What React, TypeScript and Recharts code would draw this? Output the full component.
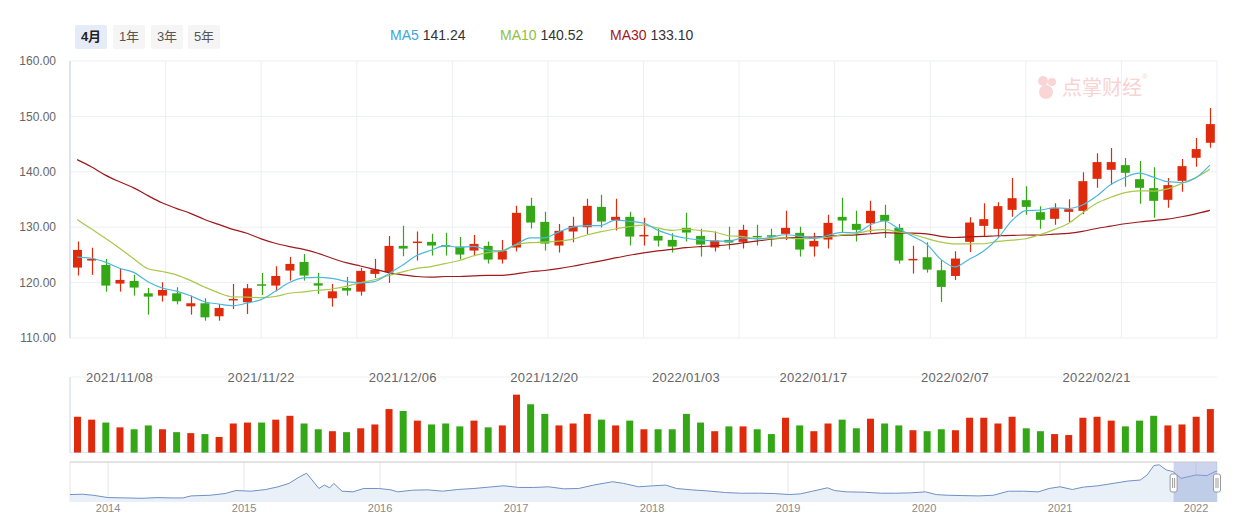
import React from 'react';
import {
  ComposedChart, Bar, Line, Area, XAxis, YAxis, CartesianGrid, Cell, ReferenceArea, ReferenceLine,
} from 'recharts';

const RED = '#e02a0c';
const GREEN = '#34a716';
const FONT = '"Liberation Sans", Arial, "Noto Sans CJK SC", sans-serif';

// trading days shown in the window
const dates = [
  '2021/11/03', '2021/11/04', '2021/11/05', '2021/11/08', '2021/11/09', '2021/11/10', '2021/11/11', '2021/11/12', '2021/11/15', '2021/11/16',
  '2021/11/17', '2021/11/18', '2021/11/19', '2021/11/22', '2021/11/23', '2021/11/24', '2021/11/25', '2021/11/26', '2021/11/29', '2021/11/30',
  '2021/12/01', '2021/12/02', '2021/12/03', '2021/12/06', '2021/12/07', '2021/12/08', '2021/12/09', '2021/12/10', '2021/12/13', '2021/12/14',
  '2021/12/15', '2021/12/16', '2021/12/17', '2021/12/20', '2021/12/21', '2021/12/22', '2021/12/23', '2021/12/24', '2021/12/27', '2021/12/28',
  '2021/12/29', '2021/12/30', '2021/12/31', '2022/01/03', '2022/01/04', '2022/01/05', '2022/01/06', '2022/01/07', '2022/01/10', '2022/01/11',
  '2022/01/12', '2022/01/13', '2022/01/17', '2022/01/18', '2022/01/19', '2022/01/20', '2022/01/21', '2022/01/24', '2022/01/25', '2022/01/26',
  '2022/01/27', '2022/01/28', '2022/02/07', '2022/02/08', '2022/02/09', '2022/02/10', '2022/02/11', '2022/02/14', '2022/02/15', '2022/02/16',
  '2022/02/17', '2022/02/18', '2022/02/21', '2022/02/22', '2022/02/23', '2022/02/24', '2022/02/25', '2022/02/28', '2022/03/01', '2022/03/02',
  '2022/03/03',
];
const dateTicks = ['2021/11/08', '2021/11/22', '2021/12/06', '2021/12/20', '2022/01/03', '2022/01/17', '2022/02/07', '2022/02/21'];

const opens = [
  122.71, 123.98, 123.19, 119.82, 120.30, 118.07, 117.65, 118.07, 115.72, 116.27,
  113.92, 116.81, 116.45, 119.70, 119.46, 122.17, 123.73, 119.88, 117.17, 119.04,
  118.37, 121.57, 121.87, 126.63, 127.23, 127.35, 126.75, 126.50, 125.78, 126.63,
  124.16, 126.33, 133.86, 130.96, 126.69, 129.22, 130.00, 133.67, 131.27, 131.87,
  128.49, 128.43, 127.71, 129.88, 128.43, 126.33, 127.71, 127.35, 128.43, 128.55,
  128.80, 128.98, 126.51, 127.77, 131.87, 130.60, 130.72, 132.23, 129.88, 124.16,
  124.58, 122.23, 121.20, 127.35, 130.24, 129.70, 133.13, 134.88, 132.71, 131.51,
  132.77, 132.95, 138.73, 140.36, 141.20, 138.67, 137.05, 134.94, 138.37, 142.53,
  145.24,
];
const highs = [
  127.40, 126.27, 124.28, 122.47, 121.39, 119.04, 120.06, 119.16, 117.65, 117.17,
  116.14, 119.76, 119.76, 121.75, 122.95, 124.64, 125.18, 121.75, 119.76, 121.02,
  122.65, 124.28, 128.43, 130.24, 129.22, 128.80, 128.98, 128.25, 128.61, 127.41,
  127.71, 133.86, 135.30, 132.77, 130.60, 131.87, 135.12, 135.84, 135.12, 132.77,
  131.69, 129.70, 128.92, 132.59, 129.70, 129.22, 130.06, 130.42, 130.42, 129.70,
  132.95, 130.06, 128.98, 132.23, 135.30, 132.95, 134.76, 134.04, 130.60, 126.63,
  127.29, 124.10, 125.66, 131.81, 134.34, 134.52, 138.86, 137.41, 133.80, 134.34,
  135.06, 139.94, 143.37, 144.28, 142.47, 141.93, 140.84, 138.86, 142.29, 146.08,
  151.51,
];
const lows = [
  121.27, 121.39, 118.37, 118.37, 117.65, 114.22, 116.57, 116.08, 114.22, 113.13,
  113.13, 115.24, 114.34, 117.77, 118.43, 120.36, 120.36, 117.95, 115.66, 117.65,
  117.65, 120.84, 119.94, 124.76, 123.98, 124.88, 124.88, 124.16, 124.76, 123.43,
  123.43, 125.60, 129.76, 125.78, 125.42, 127.29, 128.73, 129.94, 129.40, 126.69,
  126.69, 126.51, 125.42, 127.41, 124.70, 125.60, 125.96, 126.14, 126.69, 126.51,
  127.71, 124.70, 124.70, 126.14, 129.10, 127.41, 128.98, 128.07, 123.43, 121.63,
  121.81, 116.51, 120.48, 125.54, 128.31, 128.13, 131.87, 132.23, 129.70, 130.42,
  130.96, 132.35, 137.11, 137.65, 137.29, 134.22, 131.69, 133.49, 136.39, 140.90,
  144.34,
];
const closes = [
  125.90, 124.28, 119.46, 120.48, 119.10, 117.47, 118.67, 116.63, 116.27, 113.73,
  115.42, 117.05, 118.98, 119.46, 121.20, 123.37, 121.27, 119.46, 118.43, 118.55,
  122.11, 122.35, 126.63, 126.14, 127.41, 126.69, 126.50, 125.06, 126.99, 124.16,
  125.78, 132.59, 130.84, 127.05, 129.34, 130.24, 133.86, 131.02, 131.87, 128.31,
  128.61, 127.59, 126.51, 129.04, 126.87, 127.59, 127.23, 129.52, 128.19, 128.37,
  129.88, 125.96, 127.53, 130.78, 131.20, 129.52, 132.95, 131.14, 123.98, 124.28,
  122.35, 119.22, 124.34, 130.84, 131.45, 133.80, 135.24, 133.67, 131.33, 133.43,
  133.25, 138.31, 141.75, 141.75, 139.82, 137.11, 134.76, 137.59, 141.02, 144.10,
  148.61,
];
const volumes = [
  113, 104, 95, 80, 74, 86, 74, 65, 62, 59,
  50, 92, 95, 95, 104, 116, 92, 74, 68, 65,
  77, 89, 137, 131, 101, 89, 92, 83, 101, 80,
  86, 182, 152, 122, 86, 92, 122, 104, 86, 101,
  74, 74, 74, 122, 95, 68, 83, 83, 74, 59,
  110, 86, 68, 92, 104, 77, 107, 92, 86, 71,
  68, 74, 71, 110, 110, 92, 113, 77, 68, 59,
  56, 110, 113, 101, 83, 101, 116, 86, 89, 113,
  137,
];
const ma5 = [
  124.6, 124.4, 123.7, 122.6, 121.84, 120.16, 119.04, 118.47, 117.63, 116.55,
  116.14, 115.82, 116.29, 116.93, 118.42, 120.01, 120.86, 120.95, 120.75, 120.22,
  119.96, 120.18, 121.61, 123.16, 124.93, 125.84, 126.67, 126.36, 126.53, 125.88,
  125.70, 126.92, 128.07, 128.08, 129.12, 130.01, 130.27, 130.30, 131.27, 131.06,
  130.73, 129.48, 128.58, 128.01, 127.72, 127.52, 127.45, 128.05, 127.88, 128.18,
  128.64, 128.38, 127.99, 128.50, 129.07, 129.00, 130.40, 131.12, 129.76, 128.37,
  126.94, 124.19, 122.83, 124.21, 125.64, 127.93, 131.13, 133.00, 133.10, 133.49,
  133.38, 134.00, 135.61, 137.70, 138.98, 139.75, 139.04, 138.21, 138.06, 138.92,
  141.22,
];
const ma10 = [
  131.4, 129.7, 128.0, 126.2, 124.3, 122.5, 122.0, 121.4, 120.4, 119.20,
  118.15, 117.43, 117.38, 117.28, 117.49, 118.08, 118.34, 118.62, 118.84, 119.32,
  119.99, 120.52, 121.28, 121.95, 122.57, 122.90, 123.43, 123.99, 124.84, 125.40,
  125.77, 126.80, 127.22, 127.31, 127.50, 127.86, 128.59, 129.19, 129.68, 130.09,
  130.37, 129.87, 129.44, 129.64, 129.39, 129.13, 128.46, 128.31, 127.95, 127.95,
  128.08, 127.92, 128.02, 128.19, 128.63, 128.82, 129.39, 129.55, 129.13, 128.72,
  127.97, 127.30, 126.98, 126.98, 127.01, 127.44, 127.66, 127.92, 128.65, 129.57,
  130.66, 132.57, 134.31, 135.40, 136.24, 136.57, 136.52, 136.91, 137.88, 138.95,
  140.48,
];
const ma30 = [
  142.2, 140.9, 139.4, 138.2, 137.1, 135.7, 134.4, 133.4, 132.5, 131.4,
  130.5, 129.6, 128.9, 127.9, 127.1, 126.5, 126.0, 125.3, 124.4, 123.6,
  123.0, 122.4, 121.8, 121.4, 121.1, 121.0, 121.1, 121.1, 121.2, 121.31,
  121.30, 121.58, 121.96, 122.18, 122.52, 122.95, 123.45, 123.93, 124.45, 124.94,
  125.38, 125.73, 125.98, 126.30, 126.49, 126.63, 126.83, 127.16, 127.49, 127.82,
  128.07, 128.19, 128.22, 128.38, 128.51, 128.60, 128.82, 129.02, 128.92, 128.92,
  128.81, 128.36, 128.14, 128.27, 128.34, 128.46, 128.51, 128.59, 128.58, 128.75,
  128.90, 129.26, 129.77, 130.19, 130.62, 130.94, 131.19, 131.46, 131.89, 132.41,
  133.04,
];

// long range overview (navigator)
const navTime = [
  2013.72, 2013.81, 2013.89, 2014.00, 2014.14, 2014.25, 2014.36, 2014.47, 2014.55, 2014.61,
  2014.75, 2014.86, 2014.94, 2015.05, 2015.16, 2015.25, 2015.33, 2015.41, 2015.46, 2015.50,
  2015.55, 2015.59, 2015.63, 2015.66, 2015.72, 2015.80, 2015.88, 2015.99, 2016.08, 2016.13,
  2016.24, 2016.35, 2016.46, 2016.57, 2016.69, 2016.80, 2016.91, 2017.02, 2017.13, 2017.24,
  2017.35, 2017.46, 2017.57, 2017.71, 2017.79, 2017.90, 2018.01, 2018.10, 2018.18, 2018.29,
  2018.40, 2018.54, 2018.65, 2018.79, 2018.90, 2019.01, 2019.09, 2019.18, 2019.29, 2019.34,
  2019.43, 2019.56, 2019.68, 2019.79, 2019.90, 2020.01, 2020.09, 2020.17, 2020.28, 2020.40,
  2020.51, 2020.62, 2020.73, 2020.84, 2020.92, 2021.00, 2021.09, 2021.17, 2021.28, 2021.39,
  2021.50, 2021.59, 2021.64, 2021.69, 2021.73, 2021.78, 2021.83, 2021.89, 2022.00, 2022.08,
  2022.14, 2022.17,
];
const navValue = [
  68.4, 69.6, 66.0, 57.6, 56.4, 55.2, 57.6, 56.4, 56.4, 63.6,
  66.0, 72.0, 82.8, 80.4, 86.4, 96.0, 108.0, 132.0, 144.0, 120.0,
  90.0, 102.0, 92.4, 108.0, 80.4, 78.0, 90.0, 90.0, 85.2, 78.0,
  84.0, 85.2, 80.4, 86.4, 90.0, 94.8, 99.6, 93.6, 93.6, 96.0,
  88.8, 90.0, 102.0, 114.0, 108.0, 96.0, 99.6, 102.0, 90.0, 85.2,
  81.6, 75.6, 73.2, 73.2, 72.0, 68.4, 70.8, 80.4, 92.4, 82.8,
  78.0, 76.8, 73.2, 73.2, 74.4, 78.0, 68.4, 66.0, 64.8, 63.6,
  66.0, 80.4, 80.4, 78.0, 90.0, 96.0, 86.4, 94.8, 99.6, 108.0,
  116.4, 120.0, 138.0, 171.6, 174.0, 156.0, 150.0, 126.0, 138.0, 135.6,
  150.0, 152.4,
];
const navYears = [2014, 2015, 2016, 2017, 2018, 2019, 2020, 2021, 2022];
const windowStart = 2021.835;

const rows = dates.map((d, i) => ({
  date: d,
  open: opens[i],
  high: highs[i],
  low: lows[i],
  close: closes[i],
  volume: volumes[i],
  ma5: ma5[i],
  ma10: ma10[i],
  ma30: ma30[i],
}));
const navRows = navTime.map((t, i) => ({ t, v: navValue[i] }));

const Candle = (props: any) => {
  const { x, y, width, height, payload } = props;
  const { open, close, high, low } = payload;
  const color = close >= open ? RED : GREEN;
  const yHigh = Math.min(y, y + height);
  const yLow = Math.max(y, y + height);
  const k = (yLow - yHigh) / (high - low);
  const yo = yHigh + (high - open) * k;
  const yc = yHigh + (high - close) * k;
  const cx = Math.round(x + width / 2) + 0.5;
  return (
    <g>
      <line x1={cx} x2={cx} y1={yHigh} y2={yLow} stroke={color} strokeWidth={1.2} />
      <rect x={x} y={Math.min(yo, yc)} width={width} height={Math.max(1.5, Math.abs(yo - yc))} fill={color} />
    </g>
  );
};

const DateTick = (props: any) => {
  const { x, payload } = props;
  return (
    <text x={x} y={22} textAnchor="middle" fill="#666" fontSize={13} letterSpacing={0.3}>
      {payload.value}
    </text>
  );
};

const WindowShape = (props: any) => {
  const { x, y, width, height } = props;
  const handle = (hx: number) => (
    <g>
      <rect x={hx - 3.5} y={y + 12} width={7} height={18} rx={2} fill="#fff" stroke="#9a9a9a" />
      <line x1={hx - 1} x2={hx - 1} y1={y + 16} y2={y + 26} stroke="#9a9a9a" />
      <line x1={hx + 1} x2={hx + 1} y1={y + 16} y2={y + 26} stroke="#9a9a9a" />
    </g>
  );
  return (
    <g>
      <rect x={x} y={y} width={width} height={height} fill="#8fa2d6" fillOpacity={0.45} />
      {handle(x)}
      {handle(x + width)}
    </g>
  );
};

const gridX = ({ offset }: any) => {
  const out: number[] = [];
  for (let i = 0; i <= 12; i++) out.push(offset.left + (offset.width * i) / 12);
  return out;
};

const btn = (label: string, left: number, active: boolean) => (
  <div
    key={label}
    style={{
      position: 'absolute', left, top: 17, width: 32, height: 24, lineHeight: '24px', textAlign: 'center',
      fontSize: 13, borderRadius: 2, background: active ? '#e6ecf7' : '#f5f5f5',
      color: active ? '#222' : '#555', fontWeight: active ? 'bold' : 'normal',
    }}
  >
    {label}
  </div>
);

export default function App() {
  return (
    <div style={{ position: 'relative', width: 1231, height: 514, fontFamily: FONT }}>
      {btn('4月', 67, true)}
      {btn('1年', 105, false)}
      {btn('3年', 143, false)}
      {btn('5年', 180, false)}

      <div style={{ position: 'absolute', left: 382, top: 18, fontSize: 14, lineHeight: '18px', whiteSpace: 'nowrap' }}>
        <span style={{ color: '#3da6d8' }}>MA5</span> <span style={{ color: '#333' }}>141.24</span>
      </div>
      <div style={{ position: 'absolute', left: 492, top: 18, fontSize: 14, lineHeight: '18px', whiteSpace: 'nowrap' }}>
        <span style={{ color: '#8fc13c' }}>MA10</span> <span style={{ color: '#333' }}>140.52</span>
      </div>
      <div style={{ position: 'absolute', left: 602, top: 18, fontSize: 14, lineHeight: '18px', whiteSpace: 'nowrap' }}>
        <span style={{ color: '#a3161c' }}>MA30</span> <span style={{ color: '#333' }}>133.10</span>
      </div>

      <div style={{ position: 'absolute', left: 1026, top: 64, display: 'flex', alignItems: 'center', opacity: 0.35 }}>
        <svg width={26} height={28}>
          <circle cx={9} cy={8} r={5} fill="#f08a8a" />
          <circle cx={18} cy={9} r={4} fill="#f08a8a" />
          <circle cx={12} cy={19} r={7} fill="#f08a8a" />
        </svg>
        <span style={{ fontSize: 20, color: '#ee7f7f', marginLeft: 2, fontFamily: '"Noto Sans CJK SC"' }}>点掌财经</span>
        <span style={{ fontSize: 8, color: '#ee7f7f', alignSelf: 'flex-start' }}>®</span>
      </div>

      <div style={{ position: 'absolute', left: 0, top: 0 }}>
        <ComposedChart width={1223} height={342} data={rows} margin={{ top: 53, right: 14, bottom: 12, left: 0 }}>
          <CartesianGrid stroke="#eceff4" verticalCoordinatesGenerator={gridX} />
          <XAxis dataKey="date" hide />
          <YAxis
            domain={[110, 160]}
            ticks={[110, 120, 130, 140, 150, 160]}
            allowDataOverflow
            width={62}
            tickSize={0}
            tickMargin={14}
            tickFormatter={(v: number) => v.toFixed(2)}
            tick={{ fill: '#666', fontSize: 12 }}
            axisLine={{ stroke: '#c9d4e8' }}
          />
          <Bar dataKey={(d: any) => [d.low, d.high]} barSize={9} shape={Candle} isAnimationActive={false} />
          <Line type="monotone" dataKey="ma30" stroke="#9e1a1c" strokeWidth={1.2} dot={false} activeDot={false} isAnimationActive={false} />
          <Line type="monotone" dataKey="ma10" stroke="#a8c84a" strokeWidth={1.2} dot={false} activeDot={false} isAnimationActive={false} />
          <Line type="monotone" dataKey="ma5" stroke="#4cb8de" strokeWidth={1.2} dot={false} activeDot={false} isAnimationActive={false} />
        </ComposedChart>
      </div>

      <div style={{ position: 'absolute', left: 0, top: 352 }}>
        <ComposedChart width={1223} height={93} data={rows} margin={{ top: 0, right: 14, bottom: 0, left: 0 }}>
          <CartesianGrid stroke="#eef0f4" vertical={false} />
          <XAxis
            dataKey="date"
            orientation="top"
            height={17}
            ticks={dateTicks}
            interval={0}
            tickLine={false}
            axisLine={false}
            tick={DateTick}
          />
          <YAxis domain={[0, 237]} ticks={[0, 59.25, 118.5, 177.75, 237]} width={62} tick={false} tickLine={false} axisLine={{ stroke: '#c9d4e8' }} />
          <ReferenceLine y={0} stroke="#c9d4e8" />
          <Bar dataKey="volume" barSize={7} isAnimationActive={false}>
            {rows.map((r, i) => (
              <Cell key={i} fill={r.close >= r.open ? RED : GREEN} />
            ))}
          </Bar>
        </ComposedChart>
      </div>

      <div style={{ position: 'absolute', left: 0, top: 447 }}>
        <ComposedChart width={1223} height={67} data={navRows} margin={{ top: 7, right: 14, bottom: 0, left: 62 }}>
          <CartesianGrid stroke="#e4e6ea" horizontal={false} />
          <XAxis
            type="number"
            dataKey="t"
            domain={[2013.72, 2022.154]}
            allowDataOverflow
            ticks={navYears}
            height={20}
            tickLine={false}
            axisLine={false}
            tickSize={0}
            tickMargin={2}
            tick={{ fill: '#8a8a8a', fontSize: 11 }}
          />
          <YAxis hide domain={[42, 184]} allowDataOverflow />
          <Area type="linear" dataKey="v" stroke="#7090c6" strokeWidth={1} fill="#eaf0f8" fillOpacity={1} isAnimationActive={false} />
          <ReferenceLine y={184} stroke="#c8c8c8" />
          <ReferenceArea x1={windowStart} x2={2022.154} y1={42} y2={184} shape={WindowShape} />
        </ComposedChart>
      </div>
    </div>
  );
}
